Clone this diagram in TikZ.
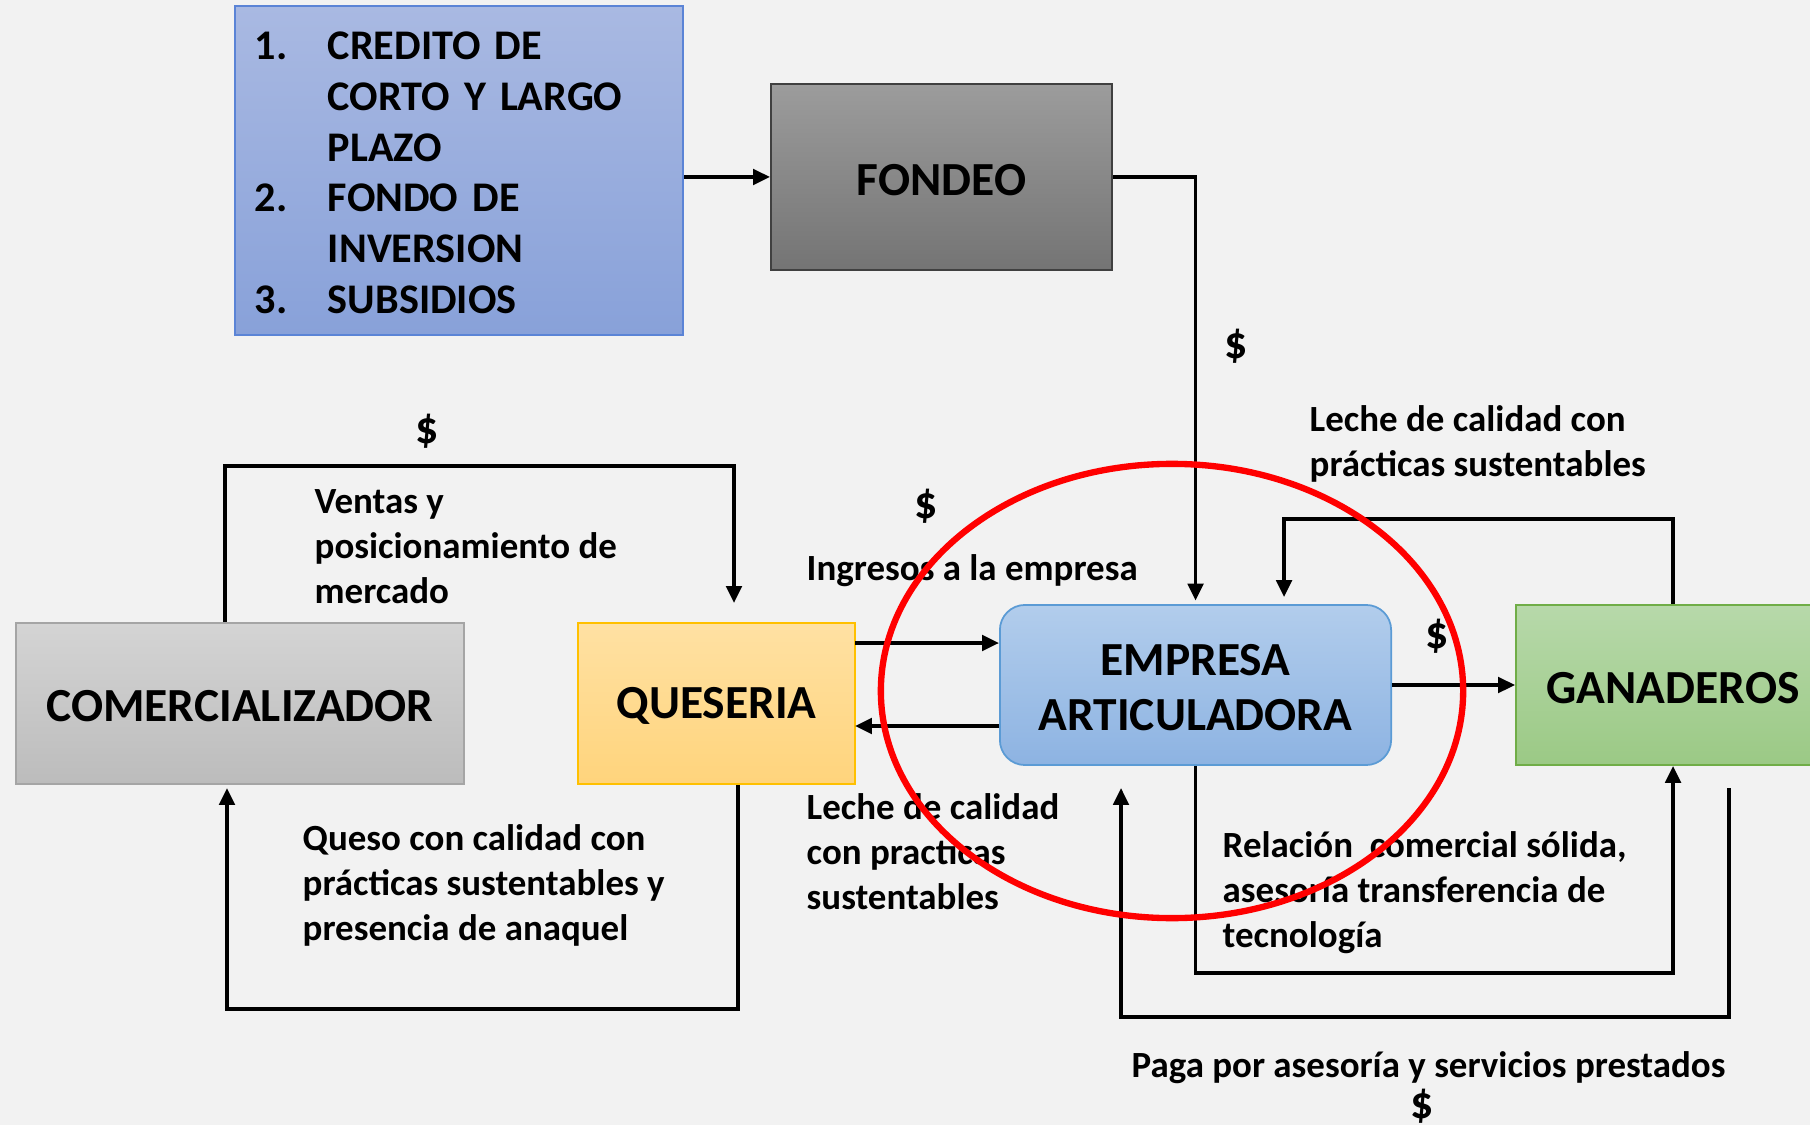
\documentclass[tikz,border=0pt]{standalone}
\usepackage{fontspec}
\setmainfont{Carlito}
\usetikzlibrary{arrows.meta}

\definecolor{fondo}{HTML}{F2F2F2}
\definecolor{azulA}{HTML}{A9B9E2}
\definecolor{azulB}{HTML}{88A1D9}
\definecolor{azulBorde}{HTML}{5B84D6}
\definecolor{grisA}{HTML}{9C9C9C}
\definecolor{grisB}{HTML}{747474}
\definecolor{celesteA}{HTML}{B2CDEC}
\definecolor{celesteB}{HTML}{8DB3E2}
\definecolor{celesteBorde}{HTML}{5B9BD5}
\definecolor{verdeA}{HTML}{B7D9AA}
\definecolor{verdeB}{HTML}{9BC985}
\definecolor{verdeBorde}{HTML}{70AD47}
\definecolor{amarilloA}{HTML}{FFE1A3}
\definecolor{amarilloB}{HTML}{FFD47C}
\definecolor{amarilloBorde}{HTML}{FFC000}
\definecolor{plataA}{HTML}{D4D4D4}
\definecolor{plataB}{HTML}{BCBCBC}
\definecolor{plataBorde}{HTML}{A5A5A5}

\newcommand{\alto}{\rule{0pt}{0.77em}}

\tikzset{
    caja/.style={draw, line width=0.5pt, inner sep=0pt, align=center,
        font=\fontsize{13.5}{15.6}\selectfont\bfseries,
        execute at begin node={\alto}},
    etiqueta/.style={anchor=west, inner sep=0pt, align=left,
        font=\fontsize{10.5}{12.8}\selectfont\bfseries},
    dolar/.style={inner sep=0pt, font=\fontsize{13}{15}\selectfont\bfseries},
    flecha/.style={line width=1pt, -{Triangle[length=4.8pt,width=4.4pt]}}
}

\begin{document}
\begin{tikzpicture}[x=0.01cm, y=-0.01cm]
    \fill[fondo] (0,0) rectangle (1810,1125);
    \useasboundingbox (0,0) rectangle (1810,1125);
    \clip (0,0) rectangle (1810,1125);

    % cajas
    \node[caja, draw=azulBorde, top color=azulA, bottom color=azulB,
        minimum width=4.48cm, minimum height=3.29cm, text width=4.08cm, align=left,
        font=\fontsize{12}{14.45}\selectfont\bfseries] (lista) at (459,170.5) {%
        \makebox[0.73cm][l]{1.}CREDITO DE\\
        \hspace*{0.73cm}CORTO Y LARGO\\
        \hspace*{0.73cm}PLAZO\\
        \makebox[0.73cm][l]{2.}FONDO DE\\
        \hspace*{0.73cm}INVERSION\\
        \makebox[0.73cm][l]{3.}SUBSIDIOS};
    \node[caja, draw=black!75, top color=grisA, bottom color=grisB,
        minimum width=3.41cm, minimum height=1.86cm] (fondeo) at (941.5,177) {FONDEO};
    \node[caja, draw=celesteBorde, top color=celesteA, bottom color=celesteB, rounded corners=0.25cm,
        minimum width=3.91cm, minimum height=1.60cm] (empresa) at (1195.5,685) {\alto EMPRESA\\ARTICULADORA};
    \node[caja, draw=verdeBorde, top color=verdeA, bottom color=verdeB,
        minimum width=3.14cm, minimum height=1.60cm] (ganaderos) at (1673,685) {GANADEROS};
    \node[caja, draw=amarilloBorde, top color=amarilloA, bottom color=amarilloB,
        minimum width=2.77cm, minimum height=1.61cm] (queseria) at (716.5,703.5) {QUESERIA};
    \node[caja, draw=plataBorde, top color=plataA, bottom color=plataB,
        minimum width=4.48cm, minimum height=1.61cm] (comercializador) at (240,703.5) {COMERCIALIZADOR};

    % puntos de quiebre
    \coordinate (q1) at (855,643);
    \coordinate (q2) at (855,726);
    \coordinate (lg1) at (1284,519);
    \coordinate (lg2) at (1673,973);
    \coordinate (pg1) at (1729,788);
    \coordinate (pg2) at (1121,1017);
    \coordinate (lq1) at (738,1009);
    \coordinate (lq2) at (227,788);
    \coordinate (lc1) at (225,466);
    \coordinate (lc2) at (734,603);

    % conexiones
    \draw[flecha] (lista.east |- fondeo.west) -- (fondeo.west);
    \draw[flecha] (fondeo.east) -| ([yshift=1pt]empresa.north);
    \draw[flecha] (q1) -- (q1 -| empresa.west);
    \draw[flecha] (q2 -| empresa.west) -- (q2);
    \draw[flecha] (empresa.east) -- (ganaderos.west);
    \draw[flecha] (ganaderos.north) |- (lg1) -- ([yshift=2pt]lg1 |- empresa.north);
    \draw[flecha] (empresa.south) |- (lg2) -- (ganaderos.south);
    \draw[flecha] (pg1) |- (pg2) -- (pg2 |- pg1);
    \draw[flecha] (lq1 |- queseria.south) -- (lq1) -| (lq2);
    \draw[flecha] (lc1 |- comercializador.north) -- (lc1) -| (lc2);

    % textos
    \node[dolar] (d1) at (427,431) {\$};
    \node[dolar] (d2) at (926,506) {\$};
    \node[dolar] (d3) at (1437,636) {\$};
    \node[dolar] (d4) at (1422,1106) {\$};
    \node[dolar] (d5) at (1236,346) {\$};
    \node[etiqueta] (ventas) at (314,547) {Ventas y\\posicionamiento de\\mercado};
    \node[etiqueta] (ingresos) at (806,571) {Ingresos a la empresa};
    \node[etiqueta] (lecheA) at (1309,444) {Leche de calidad con\\prácticas sustentables};
    \node[etiqueta] (lecheB) at (806,852) {Leche de calidad\\con practicas\\sustentables};
    \node[etiqueta] (queso) at (302,885) {Queso con calidad con\\prácticas sustentables y\\presencia de anaquel};
    \node[etiqueta] (relacion) at (1222,893) {Relación \ comercial sólida,\\asesoría transferencia de\\tecnología};
    \node[etiqueta] (paga) at (1131,1068) {Paga por asesoría y servicios prestados};

    % resaltado
    \draw[red, line width=1.8pt] (1172,691) ellipse [x radius=2.91cm, y radius=2.27cm];
\end{tikzpicture}
\end{document}
